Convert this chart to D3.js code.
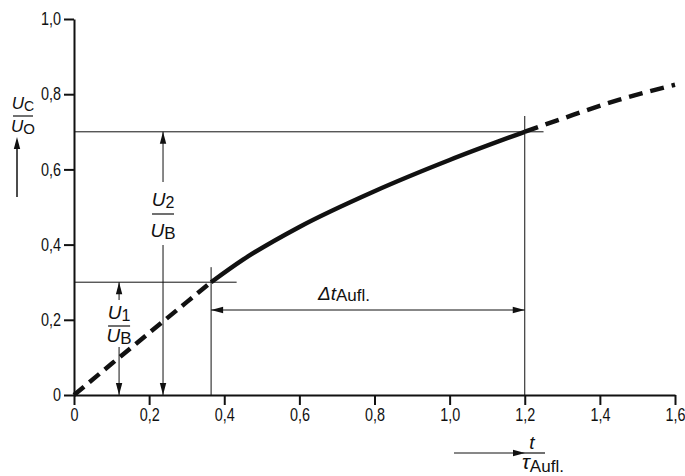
<!DOCTYPE html>
<html>
<head>
<meta charset="utf-8">
<script src="https://cdn.jsdelivr.net/npm/d3@7"></script>
<style>
  body { margin: 0; background: #fff; }
  text { font-family: "Liberation Sans", Arial, sans-serif; fill: #111; }
</style>
</head>
<body>
<svg id="chart" width="685" height="476"></svg>
<script>
// ticks
const xTicks = [0, 0.2, 0.4, 0.6, 0.8, 1.0, 1.2, 1.4, 1.6];
const yTicks = [0, 0.2, 0.4, 0.6, 0.8, 1.0];
// curve (t/tau, Uc/U0)
const curveStart = [[0, 0], [0.1, 0.083], [0.2, 0.165], [0.3, 0.247], [0.365, 0.30]];
const curveMid = [[0.365, 0.30], [0.45, 0.36], [0.6, 0.447], [0.8, 0.542], [1.0, 0.625], [1.2, 0.70]];
const curveEnd = [[1.2, 0.70], [1.3, 0.735], [1.45, 0.785], [1.6, 0.825]];
// marked levels
const t1 = 0.365, t2 = 1.2;
const v1 = 0.3, v2 = 0.7;
const u1x = 0.12, u2x = 0.237;

const svg = d3.select("#chart");
const x = d3.scaleLinear().domain([0, 1.6]).range([74, 675]);
const y = d3.scaleLinear().domain([0, 1]).range([395, 19]);
const fmt = d => d === 0 ? "0" : d3.format(".1f")(d).replace(".", ",");
const squeeze = 0.8;

// arrow head helper, tip at (tx,ty), pointing in direction (dx,dy)
function head(tx, ty, dx, dy) {
  const L = 12, W = 3.2;
  const bx = tx - dx * L, by = ty - dy * L;
  svg.append("path")
    .attr("d", `M${tx},${ty}L${bx - dy * W},${by + dx * W}L${bx + dy * W},${by - dx * W}Z`)
    .attr("fill", "#111");
}
function line(x1, y1, x2, y2, w) {
  svg.append("line").attr("x1", x1).attr("y1", y1).attr("x2", x2).attr("y2", y2)
    .attr("stroke", "#111").attr("stroke-width", w || 1);
}

// reference lines
line(x(0), y(v2), x(1.25), y(v2));
line(x(0), y(v1), x(0.433), y(v1));
line(x(t1), y(0.34), x(t1), y(0));
line(x(t2), y(0.742), x(t2), y(0));

// axes
const xAxis = svg.append("g").attr("transform", `translate(0,${y(0)})`)
  .call(d3.axisBottom(x).tickValues(xTicks).tickFormat(fmt).tickSize(10).tickSizeOuter(0));
const yAxis = svg.append("g").attr("transform", `translate(${x(0)},0)`)
  .call(d3.axisLeft(y).tickValues(yTicks).tickFormat(fmt).tickSize(10).tickSizeOuter(0));
[xAxis, yAxis].forEach(g => {
  g.select(".domain").attr("stroke", "#111").attr("stroke-width", 2);
  g.selectAll(".tick line").attr("stroke", "#111").attr("stroke-width", 2);
  g.selectAll(".tick text").attr("font-size", 18).attr("fill", "#111")
    .style("font-family", '"Liberation Sans", Arial, sans-serif')
    .attr("transform", `scale(${squeeze},1)`);
});
yAxis.selectAll(".tick text").attr("x", -13 / squeeze);

// curve
const path = d3.line().x(d => x(d[0])).y(d => y(d[1])).curve(d3.curveMonotoneX);
[[curveStart, "13,7"], [curveMid, null], [curveEnd, "14,8"]].forEach(([pts, dash]) => {
  svg.append("path").attr("d", path(pts)).attr("fill", "none")
    .attr("stroke", "#111").attr("stroke-width", 4.5)
    .attr("stroke-dasharray", dash);
});

// delta t arrow
const ya = 310;
line(x(t1), ya, x(t2), ya);
head(x(t1), ya, -1, 0);
head(x(t2), ya, 1, 0);

// U2/UB arrow
line(x(u2x), y(v2), x(u2x), 182);
line(x(u2x), 245, x(u2x), y(0));
head(x(u2x), y(v2), 0, -1);
head(x(u2x), y(0), 0, 1);
// U1/UB arrow
line(x(u1x), y(v1), x(u1x), 300);
line(x(u1x), 347, x(u1x), y(0));
head(x(u1x), y(v1), 0, -1);
head(x(u1x), y(0), 0, 1);

// fraction label helper
function frac(cx, yTop, yBot, barY, parts, size, barW) {
  const [topMain, topSub, botMain, botSub] = parts;
  const a = svg.append("text").attr("x", cx).attr("y", yTop).attr("text-anchor", "middle").attr("font-size", size);
  a.append("tspan").attr("font-style", "italic").text(topMain);
  a.append("tspan").attr("font-size", size - 3).attr("dy", 2).text(topSub);
  const b = svg.append("text").attr("x", cx).attr("y", yBot).attr("text-anchor", "middle").attr("font-size", size);
  b.append("tspan").attr("font-style", "italic").text(botMain);
  b.append("tspan").attr("font-size", size - 2).attr("dy", 2).text(botSub);
  line(cx - barW / 2, barY, cx + barW / 2, barY, 1.2);
}
frac(x(u2x), 206, 237, 214, ["U", "2", "U", "B"], 19, 22);
frac(x(u1x), 319, 342, 326, ["U", "1", "U", "B"], 19, 22);
frac(23, 109, 132, 116, ["U", "C", "U", "O"], 17, 20);

// y label arrow
line(17, 146, 17, 197, 1.5);
head(17, 137, 0, -1);

// delta t text
const dt = svg.append("text").attr("x", 318).attr("y", 300).attr("font-size", 19);
dt.append("tspan").attr("font-style", "italic").text("Δt");
dt.append("tspan").attr("font-size", 17).attr("dy", 1).text("Aufl.");

// x label
line(454, 453, 514, 453, 1);
head(525, 453, 1, 0);
svg.append("text").attr("x", 532).attr("y", 449).attr("text-anchor", "middle")
  .attr("font-size", 19).attr("font-style", "italic").text("t");
line(522, 453, 545, 453, 1.2);
const tl = svg.append("text").attr("x", 522).attr("y", 469).attr("font-size", 21);
tl.append("tspan").attr("font-style", "italic").text("τ");
tl.append("tspan").attr("font-size", 17).attr("dy", 3).text("Aufl.");
</script>
</body>
</html>
